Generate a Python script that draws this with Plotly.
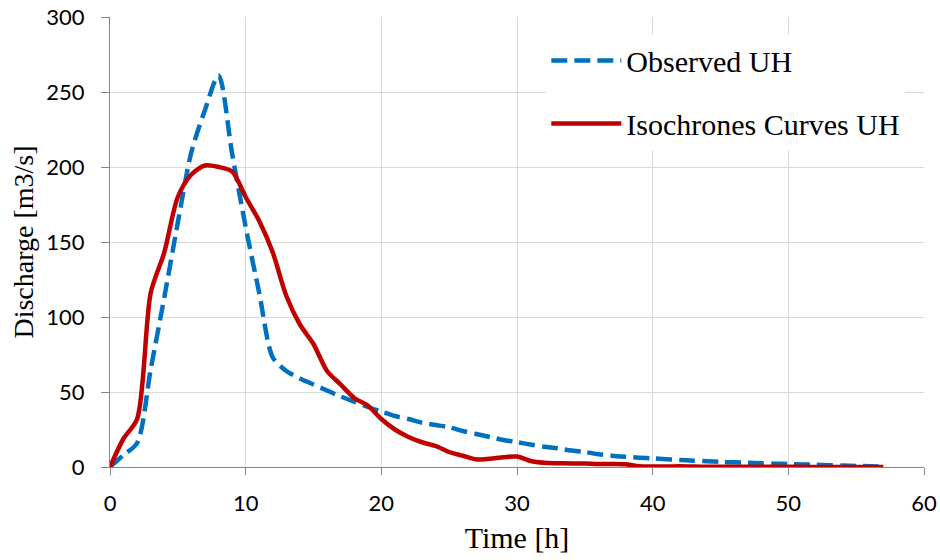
import plotly.graph_objects as go

time_h = list(range(0, 58))
observed_uh = [0, 8, 16, 65, 113, 163, 210, 238, 261, 209,
               160, 116, 73, 64, 59, 55, 51, 47, 43.5, 40,
               37, 34, 32, 29.5, 28, 26.5, 24, 22, 20, 18,
               16.5, 15, 13.5, 12.5, 11, 10, 8.5, 7.5, 6.8, 6.2,
               5.8, 5.2, 4.7, 4.2, 3.8, 3.4, 3.1, 2.8, 2.5, 2.2,
               2.0, 1.7, 1.5, 1.2, 1.0, 0.7, 0.5, 0.3]
isochrones_uh = [0, 19, 32, 116, 143, 180, 195, 201, 200, 197,
                 180, 164, 143, 114, 95, 82, 64, 55, 46, 41,
                 32, 25, 20, 16.5, 14, 10, 7.5, 5, 5.5, 6.5,
                 7, 4, 2.8, 2.5, 2.4, 2.3, 2.0, 2.0, 1.8, 0.5,
                 0.3, 0.3, 0.5, 0.3, 0.2, 0.2, 0.2, 0.1, 0.1, 0.1,
                 0.1, 0.1, 0, 0, 0, 0, 0, 0]

x_ticks = [0, 10, 20, 30, 40, 50, 60]
y_ticks = [0, 50, 100, 150, 200, 250, 300]

fig = go.Figure()
fig.add_trace(go.Scatter(
    x=time_h, y=observed_uh, mode="lines", name="Observed UH",
    legendgroup="a",
    line=dict(color="#0070C0", width=4.5, dash="16px,7px", shape="spline", smoothing=0.8),
))
fig.add_trace(go.Scatter(
    x=time_h, y=isochrones_uh, mode="lines", name="Isochrones Curves UH",
    legendgroup="b",
    line=dict(color="#C00000", width=4.5, shape="spline", smoothing=0.8),
))

axis_common = dict(
    showline=True, linecolor="#868686", linewidth=1.3,
    showgrid=True, gridcolor="#D9D9D9", gridwidth=1.3,
    ticks="outside", tickcolor="#868686", tickwidth=1.3,
    zeroline=False, ticklabeloverflow="allow", automargin=False,
    tickfont=dict(family="Lato", size=22, color="#000000"),
)

fig.update_layout(
    width=940, height=560,
    margin=dict(l=110, r=16, t=17, b=93),
    paper_bgcolor="white", plot_bgcolor="white",
    xaxis=dict(range=[0, 60], tickvals=x_ticks, ticklen=7, ticklabelstandoff=9,
               title=dict(text="Time [h]", font=dict(family="Liberation Serif", size=30, color="#000"), standoff=12),
               **axis_common),
    yaxis=dict(range=[0, 300], tickvals=y_ticks, ticklen=8, ticklabelstandoff=12,
               title=dict(text="Discharge [m3/s]", font=dict(family="Liberation Serif", size=28, color="#000"), standoff=4),
               **axis_common),
    legend=dict(
        x=0.536, y=0.961, xanchor="left", yanchor="top",
        bgcolor="white", borderwidth=0,
        font=dict(family="Liberation Serif", size=30, color="#000"),
        traceorder="grouped", tracegroupgap=21, itemwidth=70,
    ),
    showlegend=True,
)

fig.write_html("out.html")
